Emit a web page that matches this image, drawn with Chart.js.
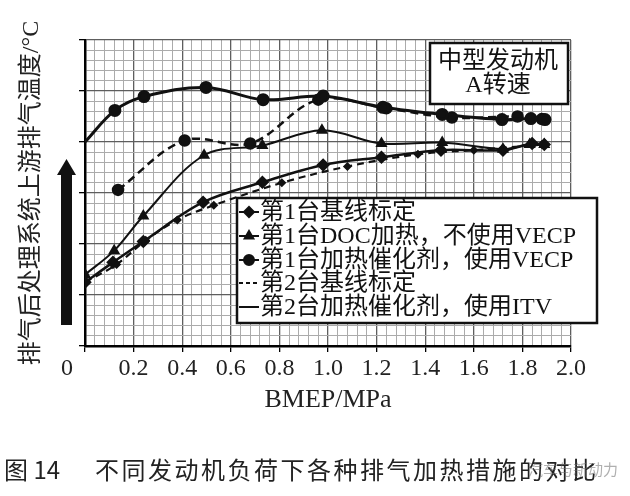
<!DOCTYPE html>
<html>
<head>
<meta charset="utf-8">
<script src="https://cdn.jsdelivr.net/npm/chart.js@4/dist/chart.umd.min.js"></script>
<style>
html, body { margin: 0; padding: 0; background: #fff; }
#wrap { position: relative; width: 630px; height: 496px; }
#caption { position: absolute; left: 4px; top: 451px; font: 24px 'Noto Sans CJK SC', sans-serif; color: #222; white-space: nowrap; }
#caption .t { position: absolute; left: 91px; top: 0; letter-spacing: 2.5px; }
#mark { position: absolute; left: 528px; top: 458px; font: 15px 'Noto Sans CJK SC', sans-serif; color: rgba(110,110,110,0.55); }
</style>
</head>
<body>
<div id="wrap">
  <canvas id="chart" width="630" height="496"></canvas>
  <div id="caption"><span>图 14</span><span class="t">不同发动机负荷下各种排气加热措施的对比</span></div>
  <div id="mark">汽车与新动力</div>
</div>
<script>
// values (y in grid units, 0..6, axis has no numbers)
const bmepBase1 = [0, 0.115, 0.24, 0.486, 0.73, 0.98, 1.22, 1.465, 1.72, 1.84, 1.89]
const tempBase1 = [1.25, 1.64, 2.05, 2.82, 3.21, 3.55, 3.70, 3.84, 3.84, 3.97, 3.95]

const bmepDoc1 = [0, 0.12, 0.24, 0.49, 0.73, 0.975, 1.22, 1.47, 1.72, 1.83, 1.89]
const tempDoc1 = [1.40, 1.87, 2.55, 3.74, 3.93, 4.23, 3.97, 3.99, 3.86, 3.95, 3.95]

const bmepVecp1 = [0, 0.123, 0.243, 0.498, 0.733, 0.98, 1.226, 1.47, 1.716, 1.835, 1.893]
const tempVecp1 = [4.0, 4.62, 4.89, 5.07, 4.83, 4.90, 4.68, 4.54, 4.44, 4.46, 4.44]

const bmepBase2 = [0, 0.13, 0.25, 0.38, 0.53, 0.81, 1.08, 1.37, 1.6, 1.88]
const tempBase2 = [1.25, 1.60, 2.07, 2.47, 2.76, 3.20, 3.52, 3.76, 3.84, 3.95]

const bmepItv2 = [0.136, 0.41, 0.68, 0.96, 1.24, 1.51, 1.78, 1.88]
const tempItv2 = [3.06, 4.03, 3.97, 4.83, 4.66, 4.48, 4.50, 4.45]

const seriesNames = ['第1台基线标定', '第1台DOC加热，不使用VECP', '第1台加热催化剂，使用VECP', '第2台基线标定', '第2台加热催化剂，使用ITV']
const xTickLabels = ['0\u2002\u2002\u2002', '0.2', '0.4', '0.6', '0.8', '1.0', '1.2', '1.4', '1.6', '1.8', '2.0']
const boxLines = ['中型发动机', 'A转速']
const yTitle = '排气后处理系统上游排气温度/°C'
const xTitle = 'BMEP/MPa'

const serif = "'Liberation Serif', 'Noto Sans CJK SC', serif"
const ink = '#111'

function pts(xs, ys) {
    return xs.map((x, i) => ({x: x, y: ys[i]}))
}
function isMajorX(v) { return Math.round(v * 100) % 20 === 0 }
function isMajorY(v) { return Math.abs(v - Math.round(v)) < 1e-6 }

// legend look: marker shown next to the line, dash of the legend line
const legendMarker = ['rectRot', 'triangle', 'circle', null, null]
const legendDash = [[], [], [], [4, 3], []]

const decor = {
    id: 'decor',
    afterDatasetsDraw(chart) {
        const ctx = chart.ctx
        ctx.save()
        ctx.fillStyle = ink
        ctx.strokeStyle = ink

        // upward arrow between axis title and axis
        ctx.beginPath()
        ctx.moveTo(66.5, 159)
        ctx.lineTo(76, 175)
        ctx.lineTo(72, 175)
        ctx.lineTo(72, 325)
        ctx.lineTo(61, 325)
        ctx.lineTo(61, 175)
        ctx.lineTo(57, 175)
        ctx.closePath()
        ctx.fill()

        // engine / speed box
        ctx.fillStyle = '#fff'
        ctx.fillRect(430, 43, 138, 61)
        ctx.lineWidth = 2.5
        ctx.strokeRect(430, 43, 138, 61)
        ctx.fillStyle = ink
        ctx.font = '24px ' + serif
        ctx.textAlign = 'center'
        ctx.textBaseline = 'middle'
        ctx.fillText(boxLines[0], 498, 62)
        ctx.fillText(boxLines[1], 498, 86)

        // legend
        ctx.fillStyle = '#fff'
        ctx.fillRect(237, 198, 360, 125)
        ctx.strokeRect(237, 198, 360, 125)
        ctx.textAlign = 'left'
        const rowY = [212, 236, 260, 283, 307]
        seriesNames.forEach((name, i) => {
            const y = rowY[i]
            ctx.strokeStyle = ink
            ctx.lineWidth = 2
            ctx.setLineDash(legendDash[i])
            ctx.beginPath()
            ctx.moveTo(239, y)
            ctx.lineTo(259, y)
            ctx.stroke()
            ctx.setLineDash([])
            if (legendMarker[i]) {
                ctx.fillStyle = ink
                Chart.helpers.drawPoint(ctx, {pointStyle: legendMarker[i], radius: 5, rotation: 0, borderWidth: 1}, 249, y)
            }
            ctx.fillStyle = ink
            ctx.fillText(name, 260, y + 1)
        })
        ctx.restore()
    }
}

new Chart(document.getElementById('chart'), {
    type: 'line',
    data: {
        datasets: [{
            label: seriesNames[0],
            data: pts(bmepBase1, tempBase1),
            borderColor: ink,
            backgroundColor: ink,
            borderWidth: 2.5,
            pointStyle: 'rectRot',
            pointRadius: 5,
            tension: 0.35
        }, {
            label: seriesNames[1],
            data: pts(bmepDoc1, tempDoc1),
            borderColor: ink,
            backgroundColor: ink,
            borderWidth: 2,
            pointStyle: 'triangle',
            pointRadius: 5,
            tension: 0.35
        }, {
            label: seriesNames[2],
            data: pts(bmepVecp1, tempVecp1),
            borderColor: ink,
            backgroundColor: ink,
            borderWidth: 3,
            pointStyle: 'circle',
            pointRadius: c => c.dataIndex === 0 ? 0 : 5,
            tension: 0.35
        }, {
            label: seriesNames[3],
            data: pts(bmepBase2, tempBase2),
            borderColor: ink,
            backgroundColor: ink,
            borderWidth: 2.2,
            borderDash: [7, 5],
            pointStyle: 'rectRot',
            pointRadius: 3,
            tension: 0.35
        }, {
            label: seriesNames[4],
            data: pts(bmepItv2, tempItv2),
            borderColor: ink,
            backgroundColor: ink,
            borderWidth: 2.5,
            borderDash: [8, 5],
            pointStyle: 'circle',
            pointRadius: 5,
            tension: 0.35
        }]
    },
    options: {
        responsive: false,
        animation: false,
        devicePixelRatio: 1,
        layout: {
            padding: {left: 8, top: 40, right: 59, bottom: 76}
        },
        plugins: {
            legend: {display: false},
            tooltip: {enabled: false}
        },
        scales: {
            x: {
                type: 'linear',
                min: 0,
                max: 2,
                title: {
                    display: true,
                    text: xTitle,
                    color: '#222',
                    font: {family: serif, size: 26, lineHeight: 1.2},
                    padding: {top: 0, bottom: 4}
                },
                grid: {
                    color: c => isMajorX(c.tick.value) ? '#5e5e5e' : '#ababab',
                    tickColor: c => isMajorX(c.tick.value) ? '#000' : 'rgba(0,0,0,0)',
                    tickLength: 6,
                    lineWidth: c => isMajorX(c.tick.value) ? 1.3 : 1
                },
                border: {color: '#000', width: 2.5},
                ticks: {
                    stepSize: 0.04,
                    maxTicksLimit: 200,
                    autoSkip: false,
                    maxRotation: 0,
                    padding: 2,
                    color: '#222',
                    font: {family: serif, size: 24, lineHeight: 1.2},
                    callback: v => isMajorX(v) ? xTickLabels[Math.round(v / 0.2)] : ''
                }
            },
            y: {
                min: 0,
                max: 6,
                title: {
                    display: true,
                    text: yTitle,
                    color: '#222',
                    font: {family: serif, size: 24, lineHeight: 1.2},
                    padding: {top: 9.6, bottom: 32.6}
                },
                grid: {
                    color: c => isMajorY(c.tick.value) ? '#5e5e5e' : '#ababab',
                    tickColor: c => isMajorY(c.tick.value) ? '#000' : 'rgba(0,0,0,0)',
                    tickLength: 6,
                    lineWidth: c => isMajorY(c.tick.value) ? 1.3 : 1
                },
                border: {color: '#000', width: 2.5},
                ticks: {
                    stepSize: 0.2,
                    maxTicksLimit: 200,
                    display: false
                }
            }
        }
    },
    plugins: [decor]
})
</script>
</body>
</html>
